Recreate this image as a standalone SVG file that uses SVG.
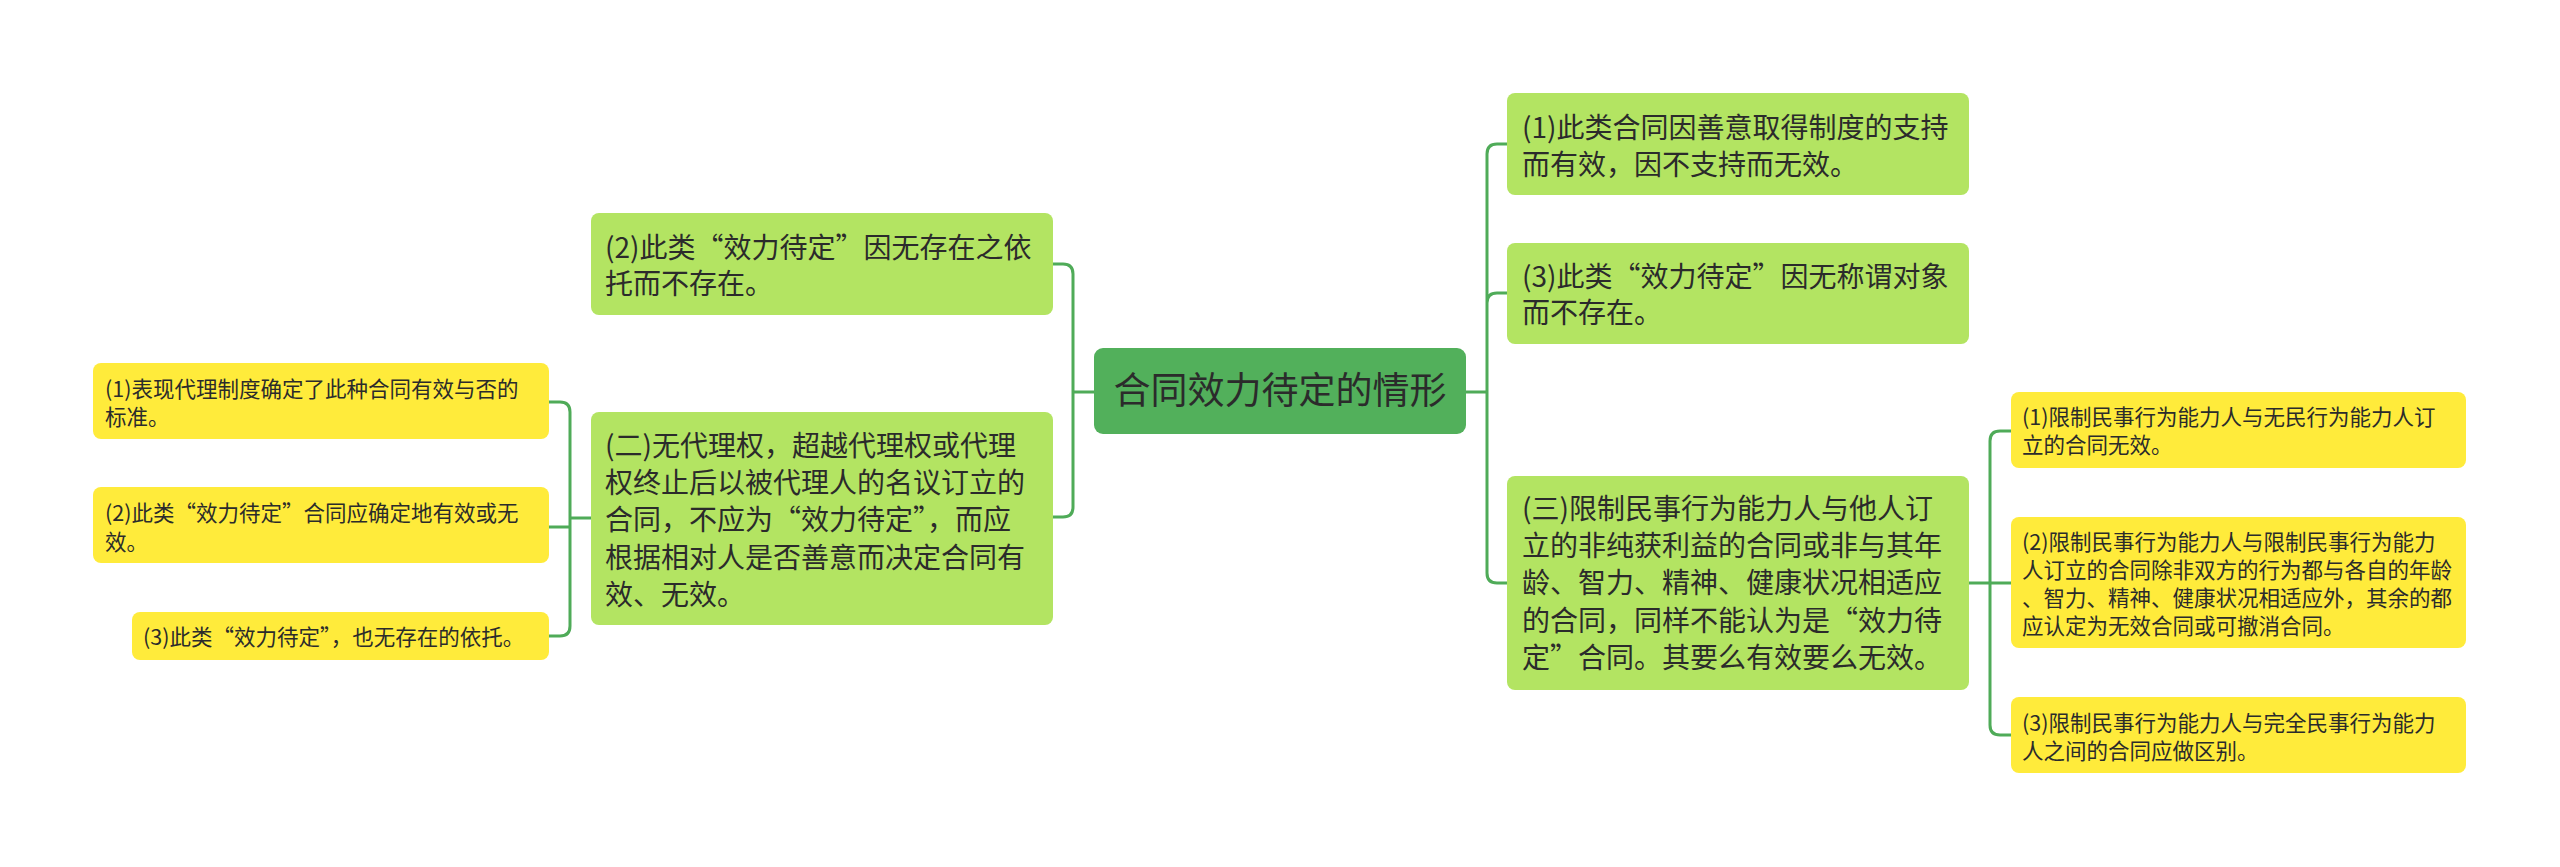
<svg xmlns="http://www.w3.org/2000/svg" width="2560" height="867" viewBox="0 0 2560 867">
<style>
.t{font-family:"Microsoft YaHei","Noto Sans CJK SC","Noto Sans",sans-serif;fill:#2b2b2b}
.root{fill:#52b05b}
.l1{fill:#b3e462}
.l2{fill:#ffeb3b}
.rt{font-size:37px}
.t1{font-size:28px}
.t2{font-size:21.5px}
.c{fill:none;stroke:#4fab58;stroke-width:3}
</style>
<rect width="2560" height="867" fill="#ffffff"/>
<g id="connectors">
<path class="c" d="M1094,392 H1073 M1053,264 H1063 Q1073,264 1073,274 V507 Q1073,517 1063,517 H1053"/>
<path class="c" d="M1466,392 H1487 M1507,144 H1497 Q1487,144 1487,154 V573 Q1487,583 1497,583 H1507 M1487,303 Q1487,293 1497,293 H1507"/>
<path class="c" d="M591,518 H570 M549,402 H560 Q570,402 570,412 V626 Q570,636 560,636 H549 M549,527 H570"/>
<path class="c" d="M1969,583 H2011 M2011,431 H2000 Q1990,431 1990,441 V725 Q1990,735 2000,735 H2011"/>
</g>
<g id="root">
<rect class="root" x="1094" y="348" width="372" height="86" rx="9"/>
<text class="t rt" x="1280" y="404" text-anchor="middle">合同效力待定的情形</text>
</g>
<g id="r1">
<rect class="l1" x="1507" y="93" width="462" height="102" rx="8"/>
<text class="t t1" x="1522" y="138">(1)此类合同因善意取得制度的支持</text>
<text class="t t1" x="1522" y="175">而有效，因不支持而无效。</text>
</g>
<g id="r2">
<rect class="l1" x="1507" y="243" width="462" height="101" rx="8"/>
<text class="t t1" x="1522" y="287">(3)此类“效力待定”因无称谓对象</text>
<text class="t t1" x="1522" y="323">而不存在。</text>
</g>
<g id="r3">
<rect class="l1" x="1507" y="476" width="462" height="214" rx="8"/>
<text class="t t1" x="1522" y="519">(三)限制民事行为能力人与他人订</text>
<text class="t t1" x="1522" y="556">立的非纯获利益的合同或非与其年</text>
<text class="t t1" x="1522" y="593">龄、智力、精神、健康状况相适应</text>
<text class="t t1" x="1522" y="631">的合同，同样不能认为是“效力待</text>
<text class="t t1" x="1522" y="668">定”合同。其要么有效要么无效。</text>
</g>
<g id="r3a">
<rect class="l2" x="2011" y="392" width="455" height="76" rx="8"/>
<text class="t t2" x="2022" y="425">(1)限制民事行为能力人与无民行为能力人订</text>
<text class="t t2" x="2022" y="453">立的合同无效。</text>
</g>
<g id="r3b">
<rect class="l2" x="2011" y="517" width="455" height="131" rx="8"/>
<text class="t t2" x="2022" y="550">(2)限制民事行为能力人与限制民事行为能力</text>
<text class="t t2" x="2022" y="578">人订立的合同除非双方的行为都与各自的年龄</text>
<text class="t t2" x="2022" y="606">、智力、精神、健康状况相适应外，其余的都</text>
<text class="t t2" x="2022" y="634">应认定为无效合同或可撤消合同。</text>
</g>
<g id="r3c">
<rect class="l2" x="2011" y="697" width="455" height="76" rx="8"/>
<text class="t t2" x="2022" y="731">(3)限制民事行为能力人与完全民事行为能力</text>
<text class="t t2" x="2022" y="759">人之间的合同应做区别。</text>
</g>
<g id="l1">
<rect class="l1" x="591" y="213" width="462" height="102" rx="8"/>
<text class="t t1" x="605" y="258">(2)此类“效力待定”因无存在之依</text>
<text class="t t1" x="605" y="294">托而不存在。</text>
</g>
<g id="l2">
<rect class="l1" x="591" y="412" width="462" height="213" rx="8"/>
<text class="t t1" x="605" y="456">(二)无代理权，超越代理权或代理</text>
<text class="t t1" x="605" y="493">权终止后以被代理人的名议订立的</text>
<text class="t t1" x="605" y="530">合同，不应为“效力待定”，而应</text>
<text class="t t1" x="605" y="568">根据相对人是否善意而决定合同有</text>
<text class="t t1" x="605" y="605">效、无效。</text>
</g>
<g id="l2a">
<rect class="l2" x="93" y="363" width="456" height="76" rx="8"/>
<text class="t t2" x="105" y="397">(1)表现代理制度确定了此种合同有效与否的</text>
<text class="t t2" x="105" y="425">标准。</text>
</g>
<g id="l2b">
<rect class="l2" x="93" y="487" width="456" height="76" rx="8"/>
<text class="t t2" x="105" y="521">(2)此类“效力待定”合同应确定地有效或无</text>
<text class="t t2" x="105" y="550">效。</text>
</g>
<g id="l2c">
<rect class="l2" x="132" y="612" width="417" height="48" rx="8"/>
<text class="t t2" x="143" y="645">(3)此类“效力待定”，也无存在的依托。</text>
</g>
</svg>
